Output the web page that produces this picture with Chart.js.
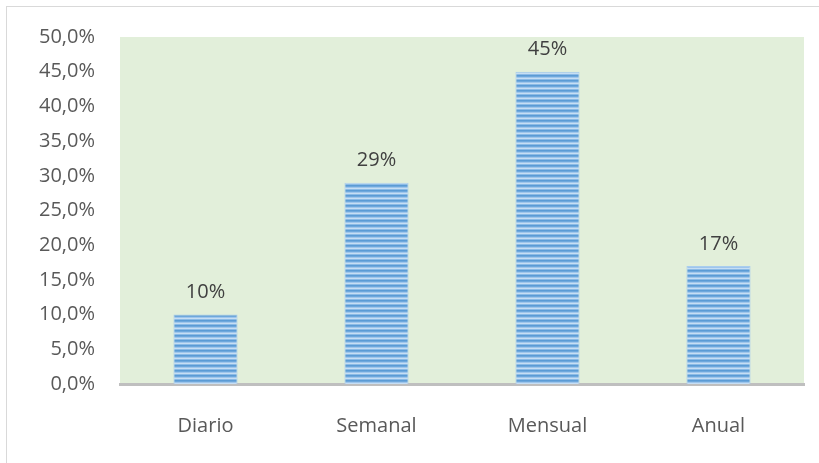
<!DOCTYPE html>
<html>
<head>
<meta charset="utf-8">
<style>
  html, body { margin: 0; padding: 0; background: #fff; overflow: hidden; }
  #frame { position: absolute; left: 6px; top: 6px; width: 830px; height: 480px; border: 1px solid #d9d9d9; }
  #wrap { position: absolute; left: 0; top: 0; width: 819px; height: 463px; }
</style>
<script src="https://cdn.jsdelivr.net/npm/chart.js@4/dist/chart.umd.min.js"></script>
</head>
<body>
<div id="frame"></div>
<div id="wrap"><canvas id="freq"></canvas></div>
<script>
// ── Data ──
const CATEGORIES = ["Diario", "Semanal", "Mensual", "Anual"];
const SHARE = [10, 29, 45, 17];          // percent of answers
const Y_TICKS = [0, 5, 10, 15, 20, 25, 30, 35, 40, 45, 50];

const FONT = "'Open Sans', 'Liberation Sans', sans-serif";

// striped blue fill for the bars
function stripeFill(ctx) {
  const c = document.createElement("canvas");
  c.width = 8; c.height = 5;
  const p = c.getContext("2d");
  const rows = ["#5b9bd5", "#6ea8dc", "#9fc6ec", "#c6def4", "#8cbbe6"];
  rows.forEach((col, i) => { p.fillStyle = col; p.fillRect(0, i, 8, 1); });
  return ctx.createPattern(c, "repeat");
}

// ── Plot background ──
const plotBg = {
  id: "plotBg",
  beforeDraw(chart) {
    const { ctx, chartArea: a } = chart;
    ctx.save();
    ctx.fillStyle = "#e2efda";
    ctx.fillRect(a.left, a.top, a.right - a.left, a.bottom - a.top);
    ctx.restore();
  },
};

// ── Value labels over bars ──
const valueLabels = {
  id: "valueLabels",
  afterDatasetsDraw(chart) {
    const { ctx } = chart;
    const meta = chart.getDatasetMeta(0);
    ctx.save();
    ctx.font = "20px " + FONT;
    ctx.fillStyle = "#404040";
    ctx.textAlign = "center";
    ctx.textBaseline = "bottom";
    meta.data.forEach((bar, i) => {
      ctx.fillText(SHARE[i] + "%", bar.x, bar.y - 12);
    });
    ctx.restore();
  },
};

const ctx = document.getElementById("freq").getContext("2d");
new Chart(ctx, {
  type: "bar",
  data: {
    labels: CATEGORIES,
    datasets: [{
      data: SHARE,
      backgroundColor: stripeFill(ctx),
      borderColor: "#a9cdee",
      borderWidth: { left: 1, right: 1, top: 1, bottom: 0 },
      categoryPercentage: 1,
      barPercentage: 0.375,
    }],
  },
  options: {
    responsive: true,
    maintainAspectRatio: false,
    animation: false,
    layout: { padding: { left: 0, right: 15, top: 35, bottom: 0 } },
    plugins: { legend: { display: false }, tooltip: { enabled: false } },
    scales: {
      x: {
        grid: { display: false, drawTicks: false },
        border: { color: "#bfbfbf", width: 3 },
        ticks: { color: "#595959", font: { family: FONT, size: 20 }, padding: 30 },
        afterFit(s) { s.height = 79; },
      },
      y: {
        min: 0,
        max: 50,
        afterBuildTicks(s) { s.ticks = Y_TICKS.map((v) => ({ value: v })); },
        grid: { display: false, drawTicks: false },
        border: { display: false },
        ticks: {
          color: "#595959",
          font: { family: FONT, size: 20 },
          padding: 25,
          callback: (v) => v.toFixed(1).replace(".", ",") + "%",
        },
        afterFit(s) { s.width = 120; },
      },
    },
  },
  plugins: [plotBg, valueLabels],
});
</script>
</body>
</html>
